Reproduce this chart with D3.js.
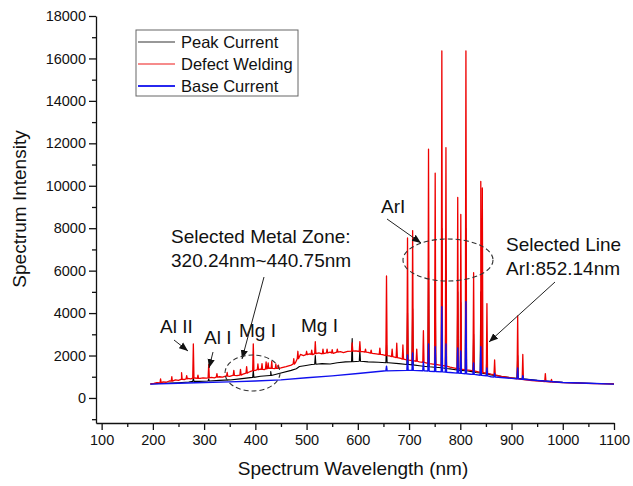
<!DOCTYPE html>
<html>
<head>
<meta charset="utf-8">
<script src="https://cdn.jsdelivr.net/npm/d3@7"></script>
<style>
  body { margin: 0; background: #fff; }
  svg { display: block; font-family: "Liberation Sans", Arial, sans-serif; }
</style>
</head>
<body>
<div id="chart"></div>
<script>
// baselines [nm, intensity]
const redBase = [[195,660],[202,690],[208,720],[214,700],[220,760],[226,740],[232,800],[238,790],[244,850],[250,830],[256,880],[262,870],[268,920],[274,900],[282,940],[292,920],[298,950],[304,930],[314,970],[320,950],[330,1000],[336,980],[342,1030],[350,1020],[356,1060],[364,1050],[376,1120],[386,1200],[392,1260],[400,1300],[410,1360],[418,1340],[428,1400],[438,1380],[450,1420],[460,1480],[470,1550],[478,1650],[484,1900],[488,2050],[494,2000],[506,2080],[512,2040],[524,2120],[530,2080],[546,2160],[552,2100],[566,2180],[572,2140],[580,2200],[596,2220],[610,2180],[620,2150],[628,2100],[636,2080],[648,2040],[662,1980],[672,1920],[684,1860],[700,1780],[720,1700],[740,1620],[760,1550],[780,1450],[800,1360],[820,1300],[840,1200],[860,1120],[880,1020],[900,940],[920,880],[940,820],[960,780],[980,750],[1000,720],[1030,700],[1060,680],[1100,660]];
const blackBase = [[195,660],[220,690],[250,720],[270,750],[290,780],[310,800],[330,830],[350,850],[370,900],[390,960],[410,1020],[430,1060],[450,1180],[470,1300],[480,1380],[486,1480],[496,1520],[510,1580],[530,1620],[546,1600],[560,1660],[576,1700],[590,1710],[606,1730],[620,1700],[640,1680],[660,1660],[680,1620],[700,1580],[720,1520],[750,1450],[780,1370],[800,1300],[830,1200],[860,1080],[900,950],[950,830],[1000,735],[1050,690],[1100,655]];
const blueBase = [[195,650],[250,690],[300,730],[350,760],[400,800],[450,850],[500,950],[550,1040],[600,1150],[650,1270],[700,1300],[740,1260],[780,1200],[820,1120],[860,1000],[900,925],[950,825],[1000,730],[1050,690],[1100,650]];

// emission lines [nm, foot, top]
const redPeaks = [[215,710,900],[237,795,1000],[256,880,1190],[266,900,1050],[279,930,2545],[288,925,1080],[309,950,1580],[325,980,1150],[345,1025,1200],[358,1060,1300],[371,1080,1350],[383,1170,1480],[396,1290,2550],[405,1330,1600],[413,1350,1620],[421,1370,1700],[425,1390,1650],[432,1390,1720],[440,1390,1600],[445,1400,1550],[475,1600,1850],[483,1850,2200],[500,2040,2200],[510,2050,2250],[517,2090,2650],[532,2090,2300],[540,2120,2300],[550,2120,2280],[560,2160,2300],[589,2210,2600],[604,2190,2650],[615,2160,2300],[626,2110,2250],[643,2050,2350],[656,2000,5750],[667,1950,2300],[676,1900,2580],[688,1830,2500],[697,1800,7540],[707,1760,7890],[715,1730,2300],[728,1680,3170],[738,1630,11720],[751,1580,10600],[764,1540,16350],[772,1500,11800],[795,1380,9450],[801,1360,8650],[811,1320,16350],[826,1280,5900],[840,1210,10200],[843,1200,9900],[852,1160,4450],[867,1090,1790],[912,900,3865],[922,870,2050],[966,770,1150],[978,750,870]];
const blackPeaks = [[279,780,950],[309,800,900],[396,970,1300],[430,1060,1250],[517,1590,2000],[589,1710,2800],[604,1730,2260],[656,1660,2500],[697,1580,4000],[707,1560,4200],[738,1470,6000],[751,1450,5500],[764,1420,8000],[772,1390,6000],[795,1320,5000],[801,1300,4500],[811,1280,8000],[826,1230,3000],[840,1180,5000],[852,1130,2600],[912,930,2000]];
const bluePeaks = [[656,1275,1500],[697,1300,2030],[707,1300,2120],[728,1280,1700],[738,1270,2545],[751,1250,2420],[764,1230,4300],[772,1215,2545],[795,1170,2360],[801,1160,2215],[811,1140,4540],[826,1110,1650],[840,1070,2420],[852,1040,1414],[867,990,1150],[912,900,1414],[922,880,1050]];

const xTicks = [100,200,300,400,500,600,700,800,900,1000,1100];
const yTicks = [0,2000,4000,6000,8000,10000,12000,14000,16000,18000];
const legendNames = ["Peak Current","Defect Welding","Base Current"];
const colors = ["#000000","#ee0000","#1010ee"];

function buildSeries(base, peaks) {
  const pts = base.map(([x, y]) => ({ x, y }));
  peaks.forEach(([x, foot, top]) => {
    pts.push({ x: x - 1.2, y: foot }, { x, y: top }, { x: x + 1.2, y: foot });
  });
  return pts.sort((a, b) => a.x - b.x);
}

const width = 633, height = 486;
const svg = d3.select("#chart").append("svg").attr("width", width).attr("height", height);

const x = d3.scaleLinear().domain([89, 1100]).range([96, 614]);
const y = d3.scaleLinear().domain([-1180, 18000]).range([423, 16]);

// series: black, red, blue on top
const line = d3.line().x(d => x(d.x)).y(d => y(d.y));
const series = [
  { pts: buildSeries(blackBase, blackPeaks), c: colors[0], w: 1.1 },
  { pts: buildSeries(redBase, redPeaks), c: colors[1], w: 1.3 },
  { pts: buildSeries(blueBase, bluePeaks), c: colors[2], w: 1.4 },
];
series.forEach(s => {
  svg.append("path").attr("d", line(s.pts)).attr("fill", "none")
    .attr("stroke", s.c).attr("stroke-width", s.w).attr("stroke-linejoin", "round");
});

// axes
const fmt = d3.format("d");
svg.append("g").attr("transform", "translate(0,423)")
  .call(d3.axisBottom(x).tickValues(xTicks).tickFormat(fmt).tickSize(7).tickSizeOuter(0).tickPadding(5));
svg.append("g").attr("transform", "translate(0,423)")
  .call(d3.axisBottom(x).tickValues(d3.range(150, 1100, 100)).tickSize(4).tickFormat(""))
  .select(".domain").remove();
svg.append("g").attr("transform", "translate(96,0)")
  .call(d3.axisLeft(y).tickValues(yTicks).tickFormat(fmt).tickSize(7).tickSizeOuter(0).tickPadding(3));
svg.append("g").attr("transform", "translate(96,0)")
  .call(d3.axisLeft(y).tickValues(d3.range(-1000, 18000, 2000)).tickSize(4).tickFormat(""))
  .select(".domain").remove();
svg.selectAll(".tick text").attr("font-size", 14.5).attr("fill", "#111")
  .attr("font-family", "Liberation Sans, Arial, sans-serif");
svg.selectAll(".domain, .tick line").attr("stroke", "#111").attr("stroke-width", 1.3);

svg.append("text").attr("x", 353).attr("y", 475).attr("text-anchor", "middle")
  .attr("font-size", 19).attr("fill", "#111").text("Spectrum Wavelength (nm)");
svg.append("text").attr("transform", "translate(26,209) rotate(-90)").attr("text-anchor", "middle")
  .attr("font-size", 19).attr("fill", "#111").text("Spectrum Intensity");

// legend
const lg = svg.append("g");
lg.append("rect").attr("x", 136).attr("y", 30).attr("width", 162).attr("height", 66)
  .attr("fill", "#fff").attr("stroke", "#666").attr("stroke-width", 1);
legendNames.forEach((n, i) => {
  const cy = 42 + i * 22;
  lg.append("line").attr("x1", 138).attr("x2", 175).attr("y1", cy).attr("y2", cy)
    .attr("stroke", colors[i]).attr("stroke-width", i === 2 ? 2 : 1.2).attr("opacity", i === 0 ? 0.8 : 0.9);
  lg.append("text").attr("x", 181).attr("y", cy + 6).attr("font-size", 16.5).attr("fill", "#111").text(n);
});

// annotations
svg.append("defs").append("marker").attr("id", "ah").attr("viewBox", "0 0 10 10")
  .attr("refX", 10).attr("refY", 5).attr("markerWidth", 9).attr("markerHeight", 9)
  .attr("markerUnits", "userSpaceOnUse").attr("orient", "auto")
  .append("path").attr("d", "M0,1 L10,5 L0,9 Z").attr("fill", "#111");

const labels = [
  { t: "Al II", x: 160, y: 333 },
  { t: "Al I", x: 204, y: 344 },
  { t: "Mg I", x: 239, y: 337 },
  { t: "Mg I", x: 301, y: 332 },
  { t: "ArI", x: 381, y: 213 },
  { t: "Selected Metal Zone:", x: 171, y: 243 },
  { t: "320.24nm~440.75nm", x: 171, y: 267 },
  { t: "Selected Line", x: 506, y: 251 },
  { t: "ArI:852.14nm", x: 506, y: 275 },
];
labels.forEach(l => svg.append("text").attr("x", l.x).attr("y", l.y)
  .attr("font-size", 19).attr("fill", "#111").text(l.t));

const arrows = [
  [174, 340, 188, 351],
  [213, 352, 209, 368],
  [264, 277, 242, 359],
  [387, 219, 421, 243],
  [555, 282, 489, 342],
];
arrows.forEach(([x1, y1, x2, y2]) => svg.append("line")
  .attr("x1", x1).attr("y1", y1).attr("x2", x2).attr("y2", y2)
  .attr("stroke", "#222").attr("stroke-width", 1).attr("marker-end", "url(#ah)"));

[[252.5, 373, 27.5, 18], [448, 260, 45, 21]].forEach(([cx, cy, rx, ry]) =>
  svg.append("ellipse").attr("cx", cx).attr("cy", cy).attr("rx", rx).attr("ry", ry)
    .attr("fill", "none").attr("stroke", "#333").attr("stroke-width", 1.1)
    .attr("stroke-dasharray", "5,3"));
</script>
</body>
</html>
